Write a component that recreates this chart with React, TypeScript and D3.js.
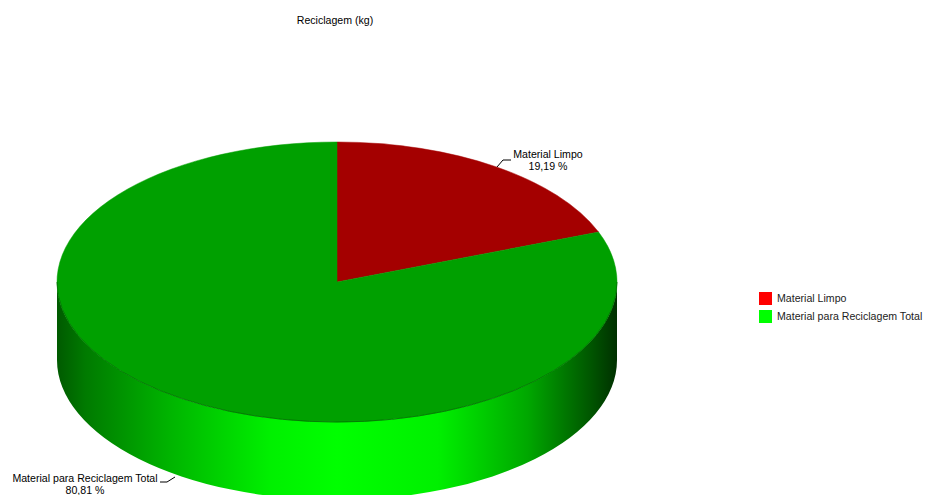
import React from "react";
import * as d3 from "d3";

const categories = ["Material Limpo", "Material para Reciclagem Total"];
const values = [19.19, 80.81];
const percentLabels = ["19,19 %", "80,81 %"];
const legendColors = ["#ff0000", "#00ff00"];
const topColors = ["#a40000", "#00a000"];
const title = "Reciclagem (kg)";

const W = 925, H = 495;
const cx = 337, cy = 282, rx = 280, ry = 140, depth = 78;
const FONT = "'Liberation Sans', Arial, sans-serif";
const FS = 10.6;

const pt = (a: number, dy = 0): [number, number] => [cx + rx * Math.sin(a), cy + dy - ry * Math.cos(a)];

function topPath(a0: number, a1: number) {
  const [x0, y0] = pt(a0);
  const [x1, y1] = pt(a1);
  const large = a1 - a0 > Math.PI ? 1 : 0;
  return `M${cx},${cy}L${x0},${y0}A${rx},${ry} 0 ${large} 1 ${x1},${y1}Z`;
}

function sidePath(a0: number, a1: number) {
  const s = Math.max(a0, Math.PI / 2);
  const e = Math.min(a1, (3 * Math.PI) / 2);
  if (e <= s) return null;
  const [x0, y0] = pt(s);
  const [x1, y1] = pt(e);
  const [x1b, y1b] = pt(e, depth);
  const [x0b, y0b] = pt(s, depth);
  return `M${x0},${y0}A${rx},${ry} 0 0 1 ${x1},${y1}L${x1b},${y1b}A${rx},${ry} 0 0 0 ${x0b},${y0b}Z`;
}

export default function App() {
  const pie = d3.pie<number>().sort(null).startAngle(0).endAngle(2 * Math.PI);
  const arcs = pie(values);
  const gradX = d3.scaleLinear().domain([0, 1]).range([cx - rx, cx + rx]);

  return (
    <svg width={W} height={H} style={{ position: "absolute", left: 0, top: 0, background: "#fff" }}>
      <defs>
        <linearGradient id="sideGrad" gradientUnits="userSpaceOnUse" x1={gradX(0)} y1={0} x2={gradX(1)} y2={0}>
          <stop offset="0" stopColor="#005a00" />
          <stop offset="0.05" stopColor="#007a00" />
          <stop offset="0.2" stopColor="#00b400" />
          <stop offset="0.38" stopColor="#00f000" />
          <stop offset="0.5" stopColor="#00ff00" />
          <stop offset="0.68" stopColor="#00f000" />
          <stop offset="0.84" stopColor="#00a800" />
          <stop offset="0.95" stopColor="#005800" />
          <stop offset="1" stopColor="#003000" />
        </linearGradient>
      </defs>
      <text x={335} y={24} textAnchor="middle" fontFamily={FONT} fontSize={FS} fill="#000">{title}</text>
      {arcs.map((a, i) => {
        const p = sidePath(a.startAngle, a.endAngle);
        return p ? <path key={"s" + i} d={p} fill={i === 1 ? "url(#sideGrad)" : legendColors[i]} /> : null;
      })}
      {arcs.map((a, i) => (
        <path key={"t" + i} d={topPath(a.startAngle, a.endAngle)} fill={topColors[i]} stroke={topColors[i]} strokeWidth={0.5} />
      ))}
      <path d={`M${cx - rx},${cy}A${rx},${ry} 0 0 0 ${cx + rx},${cy}`} fill="none" stroke="#007000" strokeWidth={0.8} />
      {/* labels */}
      <polyline points="497,167 503,160 511,160" fill="none" stroke="#000" strokeWidth={1} />
      <text x={548} y={158} textAnchor="middle" fontFamily={FONT} fontSize={FS}>{categories[0]}</text>
      <text x={548} y={170} textAnchor="middle" fontFamily={FONT} fontSize={FS}>{percentLabels[0]}</text>
      <polyline points="160,482 167,482 175,477" fill="none" stroke="#000" strokeWidth={1} />
      <text x={85} y={482} textAnchor="middle" fontFamily={FONT} fontSize={FS}>{categories[1]}</text>
      <text x={85} y={494} textAnchor="middle" fontFamily={FONT} fontSize={FS}>{percentLabels[1]}</text>
      {/* legend */}
      {categories.map((c, i) => (
        <g key={"l" + i} transform={`translate(759,${292 + i * 18})`}>
          <rect x={0} y={0} width={13} height={13} fill={legendColors[i]} />
          <text x={18} y={10} fontFamily={FONT} fontSize={FS} fill="#222">{c}</text>
        </g>
      ))}
    </svg>
  );
}
